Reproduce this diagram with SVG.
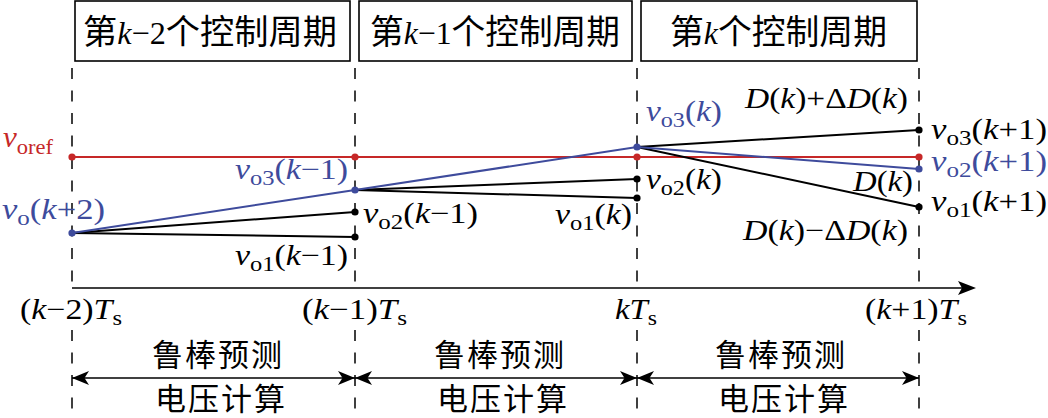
<svg xmlns="http://www.w3.org/2000/svg" width="1048" height="418" viewBox="0 0 1048 418">
<style>
.t{font-family:"Liberation Serif","Noto Sans CJK SC",serif;font-size:29px;fill:#000}
.cjk{font-family:"Liberation Serif","Noto Sans CJK SC",serif;font-size:34px;fill:#000}
.cjk2{font-family:"Noto Sans CJK SC",sans-serif;font-size:31px;letter-spacing:2px;fill:#000}
.i{font-style:italic}
.sub{font-size:21px}
.lat{font-size:32px}
.blue{fill:#3E4B9C}
.red{fill:#C62828}
.box{fill:#fff;stroke:#000;stroke-width:1.6}
.dash{stroke:#000;stroke-width:1.5;stroke-dasharray:11 11.5;fill:none}
.ln{stroke-width:2;fill:none}
.k{stroke:#000}
.b{stroke:#3E4B9C}
.r{stroke:#C62828}
.dk{fill:#000}
.db{fill:#3E4B9C}
.dr{fill:#C62828}
.arr{stroke:#000;stroke-width:1.6;fill:none;marker-start:url(#ah);marker-end:url(#ah)}
</style>
<defs>
<marker id="ah" viewBox="0 0 17 14" refX="17" refY="7" markerWidth="17" markerHeight="14" markerUnits="userSpaceOnUse" orient="auto-start-reverse">
<path d="M0,0 L17,7 L0,14 L4.5,7 Z" fill="#000"/>
</marker>
</defs>
<rect width="1048" height="418" fill="#fff"/>

<g id="period-k2">
<rect class="box" x="75" y="1" width="275" height="60"/>
<text class="cjk" x="83" y="44" textLength="254" lengthAdjust="spacingAndGlyphs">第<tspan class="i lat">k</tspan><tspan class="lat">−2</tspan>个控制周期</text>
</g>
<g id="period-k1">
<rect class="box" x="359" y="1" width="273" height="60"/>
<text class="cjk" x="370" y="44" textLength="250" lengthAdjust="spacingAndGlyphs">第<tspan class="i lat">k</tspan><tspan class="lat">−1</tspan>个控制周期</text>
</g>
<g id="period-k">
<rect class="box" x="641" y="1" width="276" height="60"/>
<text class="cjk" x="670" y="44" textLength="217" lengthAdjust="spacingAndGlyphs">第<tspan class="i lat">k</tspan>个控制周期</text>
</g>

<g id="gridlines">
<line class="dash" x1="72" y1="68" x2="72" y2="288"/>
<line class="dash" x1="355" y1="68" x2="355" y2="288"/>
<line class="dash" x1="637" y1="68" x2="637" y2="288"/>
<line class="dash" x1="919" y1="68" x2="919" y2="288"/>
<line class="dash" x1="72" y1="330" x2="72" y2="418"/>
<line class="dash" x1="355" y1="330" x2="355" y2="418"/>
<line class="dash" x1="637" y1="330" x2="637" y2="418"/>
<line class="dash" x1="919" y1="330" x2="919" y2="418"/>
</g>

<g id="axis">
<line x1="72" y1="288" x2="964" y2="288" stroke="#000" stroke-width="1.6"/>
<path d="M976,288 L958,281 L962,288 L958,295 Z" fill="#000"/>
<text class="t" x="20" y="319" textLength="102" lengthAdjust="spacingAndGlyphs">(<tspan class="i">k</tspan>−2)<tspan class="i">T</tspan><tspan class="sub" dy="6">s</tspan></text>
<text class="t" x="302" y="319" textLength="105" lengthAdjust="spacingAndGlyphs">(<tspan class="i">k</tspan>−1)<tspan class="i">T</tspan><tspan class="sub" dy="6">s</tspan></text>
<text class="t" x="615" y="319" textLength="42" lengthAdjust="spacingAndGlyphs"><tspan class="i">kT</tspan><tspan class="sub" dy="6">s</tspan></text>
<text class="t" x="865" y="319" textLength="102" lengthAdjust="spacingAndGlyphs">(<tspan class="i">k</tspan>+1)<tspan class="i">T</tspan><tspan class="sub" dy="6">s</tspan></text>
</g>

<g id="connectors">
<line class="ln r" x1="72" y1="157" x2="919" y2="157"/>
<line class="ln k" x1="72" y1="233" x2="355" y2="212"/>
<line class="ln k" x1="72" y1="233" x2="355" y2="237"/>
<line class="ln k" x1="355" y1="190" x2="637" y2="179"/>
<line class="ln k" x1="355" y1="190" x2="637" y2="198"/>
<line class="ln k" x1="637" y1="147" x2="919" y2="130"/>
<line class="ln k" x1="637" y1="147" x2="919" y2="207"/>
<polyline class="ln b" points="72,233 355,190 637,147 919,169"/>
<line class="arr" x1="72" y1="378" x2="355" y2="378"/>
<line class="arr" x1="355" y1="378" x2="637" y2="378"/>
<line class="arr" x1="637" y1="378" x2="919" y2="378"/>
</g>

<g id="dots">
<circle class="dr" cx="72" cy="157" r="3.6"/>
<circle class="dr" cx="355" cy="157" r="3.6"/>
<circle class="dr" cx="637" cy="157" r="3.6"/>
<circle class="dr" cx="919" cy="157" r="3.6"/>
<circle class="db" cx="72" cy="233" r="3.6"/>
<circle class="db" cx="355" cy="190" r="3.6"/>
<circle class="db" cx="637" cy="147" r="3.6"/>
<circle class="db" cx="919" cy="169" r="3.6"/>
<circle class="dk" cx="355" cy="212" r="3.6"/>
<circle class="dk" cx="355" cy="237" r="3.6"/>
<circle class="dk" cx="637" cy="179" r="3.6"/>
<circle class="dk" cx="637" cy="198" r="3.6"/>
<circle class="dk" cx="919" cy="130" r="3.6"/>
<circle class="dk" cx="919" cy="207" r="3.6"/>
</g>

<g id="labels">
<text class="t red" x="3" y="147" textLength="50" lengthAdjust="spacingAndGlyphs"><tspan class="i">v</tspan><tspan class="sub" dy="7">oref</tspan></text>
<text class="t blue" x="2" y="219" textLength="103" lengthAdjust="spacingAndGlyphs"><tspan class="i">v</tspan><tspan class="sub" dy="6">o</tspan><tspan dy="-6">(</tspan><tspan class="i">k</tspan>+2)</text>
<text class="t blue" x="235" y="179" textLength="113" lengthAdjust="spacingAndGlyphs"><tspan class="i">v</tspan><tspan class="sub" dy="6">o3</tspan><tspan dy="-6">(</tspan><tspan class="i">k</tspan>−1)</text>
<text class="t" x="363" y="223" textLength="115" lengthAdjust="spacingAndGlyphs"><tspan class="i">v</tspan><tspan class="sub" dy="6">o2</tspan><tspan dy="-6">(</tspan><tspan class="i">k</tspan>−1)</text>
<text class="t" x="235" y="265" textLength="113" lengthAdjust="spacingAndGlyphs"><tspan class="i">v</tspan><tspan class="sub" dy="6">o1</tspan><tspan dy="-6">(</tspan><tspan class="i">k</tspan>−1)</text>
<text class="t blue" x="646" y="121" textLength="76" lengthAdjust="spacingAndGlyphs"><tspan class="i">v</tspan><tspan class="sub" dy="6">o3</tspan><tspan dy="-6">(</tspan><tspan class="i">k</tspan>)</text>
<text class="t" x="646" y="189" textLength="76" lengthAdjust="spacingAndGlyphs"><tspan class="i">v</tspan><tspan class="sub" dy="6">o2</tspan><tspan dy="-6">(</tspan><tspan class="i">k</tspan>)</text>
<text class="t" x="555" y="224" textLength="77" lengthAdjust="spacingAndGlyphs"><tspan class="i">v</tspan><tspan class="sub" dy="6">o1</tspan><tspan dy="-6">(</tspan><tspan class="i">k</tspan>)</text>
<text class="t" x="745" y="108" textLength="163" lengthAdjust="spacingAndGlyphs"><tspan class="i">D</tspan>(<tspan class="i">k</tspan>)+Δ<tspan class="i">D</tspan>(<tspan class="i">k</tspan>)</text>
<text class="t" x="853" y="191" textLength="60" lengthAdjust="spacingAndGlyphs"><tspan class="i">D</tspan>(<tspan class="i">k</tspan>)</text>
<text class="t" x="743" y="240" textLength="165" lengthAdjust="spacingAndGlyphs"><tspan class="i">D</tspan>(<tspan class="i">k</tspan>)−Δ<tspan class="i">D</tspan>(<tspan class="i">k</tspan>)</text>
<text class="t" x="931" y="139" textLength="116" lengthAdjust="spacingAndGlyphs"><tspan class="i">v</tspan><tspan class="sub" dy="6">o3</tspan><tspan dy="-6">(</tspan><tspan class="i">k</tspan>+1)</text>
<text class="t blue" x="931" y="171" textLength="116" lengthAdjust="spacingAndGlyphs"><tspan class="i">v</tspan><tspan class="sub" dy="6">o2</tspan><tspan dy="-6">(</tspan><tspan class="i">k</tspan>+1)</text>
<text class="t" x="931" y="211" textLength="116" lengthAdjust="spacingAndGlyphs"><tspan class="i">v</tspan><tspan class="sub" dy="6">o1</tspan><tspan dy="-6">(</tspan><tspan class="i">k</tspan>+1)</text>
</g>

<g id="stage-1">
<text class="cjk2" x="152" y="366">鲁棒预测</text>
<text class="cjk2" x="155" y="410">电压计算</text>
</g>
<g id="stage-2">
<text class="cjk2" x="434" y="366">鲁棒预测</text>
<text class="cjk2" x="437" y="410">电压计算</text>
</g>
<g id="stage-3">
<text class="cjk2" x="715" y="366">鲁棒预测</text>
<text class="cjk2" x="718" y="410">电压计算</text>
</g>
</svg>
